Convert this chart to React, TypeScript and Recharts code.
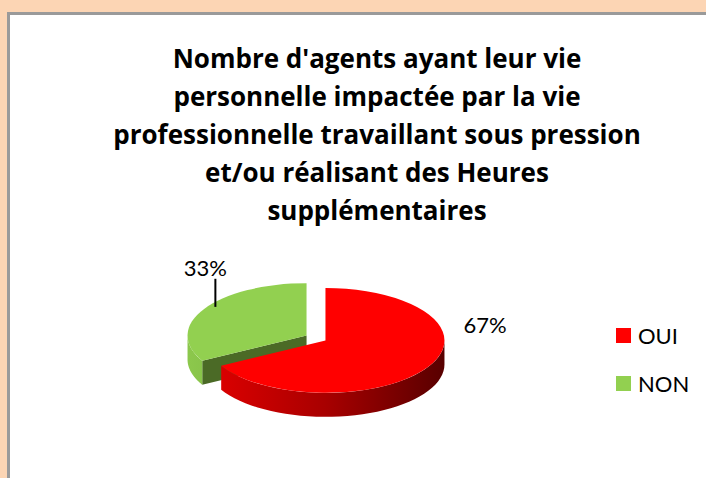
import React from 'react';
import { PieChart, Pie, Cell } from 'recharts';

// back slice first so the front (red) slice paints over it
const categories = ['NON', 'OUI'];
const values = [33, 67];
const topColors = ['#92D050', '#FF0000'];
const faceColors = ['#4B6A26', '#8A0000'];
const legendNames = ['OUI', 'NON'];
const legendColors = ['#FF0000', '#92D050'];
const titleLines = [
  "Nombre d'agents ayant leur vie",
  'personnelle impactée par la vie',
  'professionnelle travaillant sous pression',
  'et/ou réalisant des Heures',
  'supplémentaires',
];

const data = categories.map((name, i) => ({ name, value: values[i] }));
const total = values.reduce((a, b) => a + b, 0);
const startAngle = 90 + (360 * values[0]) / total;

const K = 0.44; // vertical squash of the tilted disc
const DEPTH = 24;
const EXPLODE = 11;
const RAD = Math.PI / 180;
const FONT = 'Lato, "Open Sans", sans-serif';
const TITLE_FONT = '"Open Sans", sans-serif';

const Slice3D = (props: any) => {
  const { cx, cy, outerRadius: r, startAngle: sa, endAngle: ea, fill } = props;
  const name = props.name ?? props.payload?.name;
  const idx = categories.indexOf(name);
  const mid = (sa + ea) / 2;
  const ox = cx + EXPLODE * Math.cos(mid * RAD);
  const oy = cy - EXPLODE * K * Math.sin(mid * RAD);
  const pt = (a: number, dy = 0) => [ox + r * Math.cos(a * RAD), oy - r * K * Math.sin(a * RAD) + dy];
  const hi = Math.max(sa, ea);
  const lo = Math.min(sa, ea);

  // outer curved wall, only the part facing the viewer
  const walls: string[] = [];
  for (let k = -2; k <= 1; k++) {
    const a1 = Math.max(lo, 180 + 360 * k);
    const a2 = Math.min(hi, 360 + 360 * k);
    if (a2 <= a1) continue;
    const n = 40;
    const top: number[][] = [];
    for (let i = 0; i <= n; i++) top.push(pt(a1 + ((a2 - a1) * i) / n));
    const bottom = top.map(([x, y]) => [x, y + DEPTH]).reverse();
    walls.push('M' + [...top, ...bottom].map((p) => p.join(',')).join('L') + 'Z');
  }

  // radial cut faces
  const faces: string[] = [];
  const addFace = (a: number) => {
    const [x, y] = pt(a);
    faces.push(`M${ox},${oy}L${x},${y}L${x},${y + DEPTH}L${ox},${oy + DEPTH}Z`);
  };
  if (Math.cos(hi * RAD) < -0.01) addFace(hi);
  if (Math.cos(lo * RAD) > 0.01) addFace(lo);

  const [sx, sy] = pt(hi);
  const [exx, exy] = pt(lo);
  const large = hi - lo > 180 ? 1 : 0;
  const topPath = `M${ox},${oy}L${sx},${sy}A${r},${r * K} 0 ${large} 1 ${exx},${exy}Z`;
  const gid = `wall-${name}`;

  return (
    <g>
      <defs>
        <linearGradient id={gid} gradientUnits="userSpaceOnUse" x1={ox - r} y1={0} x2={ox + r} y2={0}>
          {idx === 1 ? (
            <>
              <stop offset="0" stopColor="#E00000" />
              <stop offset="0.5" stopColor="#A80000" />
              <stop offset="1" stopColor="#580000" />
            </>
          ) : (
            <>
              <stop offset="0" stopColor="#8CC84C" />
              <stop offset="1" stopColor="#5E8A2E" />
            </>
          )}
        </linearGradient>
      </defs>
      {faces.map((d, i) => (
        <path key={'f' + i} d={d} fill={faceColors[idx]} />
      ))}
      {walls.map((d, i) => (
        <path key={'w' + i} d={d} fill={`url(#${gid})`} />
      ))}
      <path d={topPath} fill={fill} />
    </g>
  );
};

const renderLabel = (props: any) => {
  const { cx, cy, midAngle, outerRadius: r, percent, name } = props;
  const text = `${Math.round(percent * 100)}%`;
  if (name === 'OUI') {
    return (
      <text x={cx + r * 1.42} y={cy - 14} textAnchor="middle" dominantBaseline="central"
        fontFamily={FONT} fontSize={22} fill="#000">
        {text}
      </text>
    );
  }
  const x = cx + r * Math.cos(midAngle * RAD) * 1.08;
  const y = cy - r * 0.59;
  const lx = x + 10;
  const ecx = cx + EXPLODE * Math.cos(midAngle * RAD);
  const ecy = cy - EXPLODE * K * Math.sin(midAngle * RAD);
  const lineEnd = ecy + 5 - r * K * Math.sqrt(Math.max(0, 1 - ((lx - ecx) / r) ** 2));
  return (
    <g>
      <text x={x} y={y} textAnchor="middle" dominantBaseline="central" fontFamily={FONT} fontSize={22} fill="#000">
        {text}
      </text>
      <line x1={lx} y1={y + 11} x2={lx} y2={lineEnd} stroke="#000" strokeWidth={2} />
    </g>
  );
};

export default function App() {
  return (
    <div style={{ position: 'absolute', left: 0, top: 0, width: 706, height: 478, background: '#FCD5B4', overflow: 'hidden' }}>
      <div style={{ position: 'absolute', left: 7, top: 12, width: 720, height: 500, background: '#fff', borderLeft: '3px solid #9A9A9A', borderTop: '3px solid #9A9A9A', boxSizing: 'border-box' }} />
      <div style={{ position: 'absolute', left: 27, top: 39, width: 700, textAlign: 'center', fontFamily: TITLE_FONT, fontWeight: 700, fontSize: 26, lineHeight: '38px', color: '#000' }}>
        {titleLines.map((l) => (
          <div key={l}>{l}</div>
        ))}
      </div>
      <div style={{ position: 'absolute', left: 0, top: 0 }}>
        <PieChart width={706} height={478} margin={{ top: 0, right: 0, bottom: 0, left: 0 }}>
          <Pie
            data={data}
            dataKey="value"
            nameKey="name"
            cx={316}
            cy={338}
            outerRadius={119}
            startAngle={startAngle}
            endAngle={startAngle - 360}
            stroke="none"
            shape={Slice3D}
            label={renderLabel}
            labelLine={false}
            isAnimationActive={false}
          >
            {data.map((d, i) => (
              <Cell key={d.name} fill={topColors[i]} />
            ))}
          </Pie>
        </PieChart>
      </div>
      <div style={{ position: 'absolute', left: 616, top: 311, fontFamily: FONT, fontSize: 22, color: '#000' }}>
        {legendNames.map((n, i) => (
          <div key={n} style={{ display: 'flex', alignItems: 'center', height: 48 }}>
            <span style={{ width: 15, height: 15, background: legendColors[i], marginRight: 7, display: 'inline-block' }} />
            <span>{n}</span>
          </div>
        ))}
      </div>
    </div>
  );
}
